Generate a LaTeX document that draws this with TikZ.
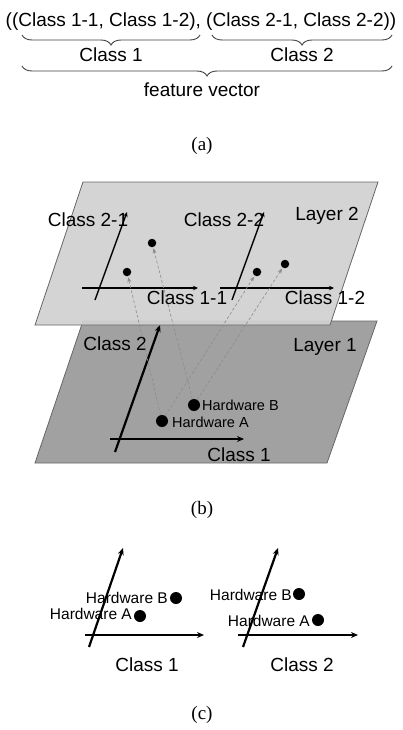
\documentclass[tikz,border=0pt]{standalone}
\usepackage{fontspec}
\setmainfont{Liberation Serif}
\setsansfont{Liberation Sans}
\usetikzlibrary{decorations.pathreplacing,arrows.meta}
\begin{document}
\begin{tikzpicture}[x=1pt,y=-1pt,
  lbl/.style={font=\sffamily\fontsize{19}{22}\selectfont, inner sep=0pt, anchor=base},
  hw/.style={font=\sffamily\fontsize{14.5}{17}\selectfont, inner sep=0pt, anchor=base west},
  hwc/.style={font=\sffamily\fontsize{15.5}{18}\selectfont, inner sep=0pt, anchor=base west},
  captxt/.style={font=\rmfamily\fontsize{19}{22}\selectfont, inner sep=0pt, anchor=base},
  dotS/.style={circle, fill=black, inner sep=0pt, minimum size=8.5pt},
  dotL/.style={circle, fill=black, inner sep=0pt, minimum size=12pt},
  bracestyle/.style={decorate, decoration={brace, mirror, amplitude=10pt}, draw=black!75, line width=0.9pt},
  axthin/.style={-{Stealth[length=5pt,width=4.5pt]}, line width=1.4pt},
  axthick/.style={-{Stealth[length=7pt,width=6pt]}, line width=2.2pt},
  link/.style={draw=black!45, line width=0.6pt, dash pattern=on 3pt off 2pt, -{Stealth[length=5pt,width=4pt]}, shorten >=1pt},
  layerbox/.style={draw=black!60, line width=0.8pt}
]
\useasboundingbox (0,0) rectangle (403,730);
\fill[white] (0,0) rectangle (403,730);

% ---------------- (a) ----------------
\node[lbl] (fv) at (201,27) {((Class 1-1, Class 1-2), (Class 2-1, Class 2-2))};
\coordinate (b1s) at (22,35); \coordinate (b1e) at (200,35);
\coordinate (b2s) at (212,35); \coordinate (b2e) at (392,35);
\coordinate (b3s) at (22,66); \coordinate (b3e) at (392,66);
\draw[bracestyle] (b1s) -- (b1e);
\draw[bracestyle] (b2s) -- (b2e);
\draw[bracestyle] (b3s) -- (b3e);
\node[lbl] (c1) at (111,62) {Class 1};
\node[lbl] (c2) at (302,62) {Class 2};
\node[lbl] (fvl) at (202,97) {feature vector};
\node[captxt] (la) at (202,151) {(a)};

% ---------------- (b) ----------------
\coordinate (L1a) at (83,321); \coordinate (L1b) at (377,321);
\coordinate (L1c) at (327,463); \coordinate (L1d) at (35,463);
\filldraw[layerbox, fill=black!37] (L1a) -- (L1b) -- (L1c) -- (L1d) -- cycle;

% layer 1 content
\coordinate (y1s) at (115,452); \coordinate (y1e) at (160,325);
\coordinate (x1s) at (110,439); \coordinate (x1e) at (244,439);
\draw[axthick] (y1s) -- (y1e);
\draw[axthick] (x1s) -- (x1e);
\node[lbl] (l1c2) at (115,350) {Class 2};
\node[lbl] (l1n) at (325,351) {Layer 1};
\node[lbl] (l1c1) at (239,461) {Class 1};
\node[dotL] (hB) at (194,405) {};
\node[dotL] (hA) at (162,421) {};
\node[hw] (hBt) at (202,410) {Hardware B};
\node[hw] (hAt) at (172,427) {Hardware A};

% layer 2
\coordinate (L2a) at (83,182); \coordinate (L2b) at (378,182);
\coordinate (L2c) at (330,325); \coordinate (L2d) at (35,325);
\filldraw[layerbox, fill=black!18, fill opacity=0.92] (L2a) -- (L2b) -- (L2c) -- (L2d) -- cycle;

\coordinate (y2s) at (95,300); \coordinate (y2e) at (127,212);
\coordinate (x2s) at (82,288); \coordinate (x2e) at (198,288);
\coordinate (y3s) at (232,300); \coordinate (y3e) at (264,212);
\coordinate (x3s) at (220,288); \coordinate (x3e) at (334,288);
\draw[axthin] (y2s) -- (y2e);
\draw[axthin] (x2s) -- (x2e);
\draw[axthin] (y3s) -- (y3e);
\draw[axthin] (x3s) -- (x3e);
\node[lbl] (l2n) at (327,220) {Layer 2};
\node[lbl] (l2c21) at (88,226) {Class 2-1};
\node[lbl] (l2c22) at (224,226) {Class 2-2};
\node[lbl] (l2c11) at (187,304) {Class 1-1};
\node[lbl] (l2c12) at (325,304) {Class 1-2};
\node[dotS] (d1) at (127,272) {};
\node[dotS] (d2) at (152,243) {};
\node[dotS] (d3) at (257,272) {};
\node[dotS] (d4) at (285,264) {};

\draw[link] (hA) -- (d1);
\draw[link] (hB) -- (d2);
\draw[link] (hA) -- (d3);
\draw[link] (hB) -- (d4);

\node[captxt] (lb) at (202,514) {(b)};

% ---------------- (c) ----------------
\coordinate (cy1s) at (89,647); \coordinate (cy1e) at (123,548);
\coordinate (cx1s) at (85,635); \coordinate (cx1e) at (204,635);
\coordinate (cy2s) at (243,647); \coordinate (cy2e) at (278,548);
\coordinate (cx2s) at (238,635); \coordinate (cx2e) at (358,635);
\draw[axthick] (cy1s) -- (cy1e);
\draw[axthick] (cx1s) -- (cx1e);
\draw[axthick] (cy2s) -- (cy2e);
\draw[axthick] (cx2s) -- (cx2e);

\node[dotL] (cB1) at (176,598) {};
\node[dotL] (cA1) at (140,616) {};
\node[dotL] (cB2) at (299,594) {};
\node[dotL] (cA2) at (318,620) {};
\node[hwc, anchor=base east] (cB1t) at (168,603) {Hardware B};
\node[hwc, anchor=base east] (cA1t) at (132,619) {Hardware A};
\node[hwc, anchor=base east] (cB2t) at (292,600) {Hardware B};
\node[hwc, anchor=base east] (cA2t) at (310,626) {Hardware A};

\node[lbl] (cc1) at (147,671) {Class 1};
\node[lbl] (cc2) at (302,671) {Class 2};
\node[captxt] (lc) at (202,719) {(c)};
\end{tikzpicture}
\end{document}
